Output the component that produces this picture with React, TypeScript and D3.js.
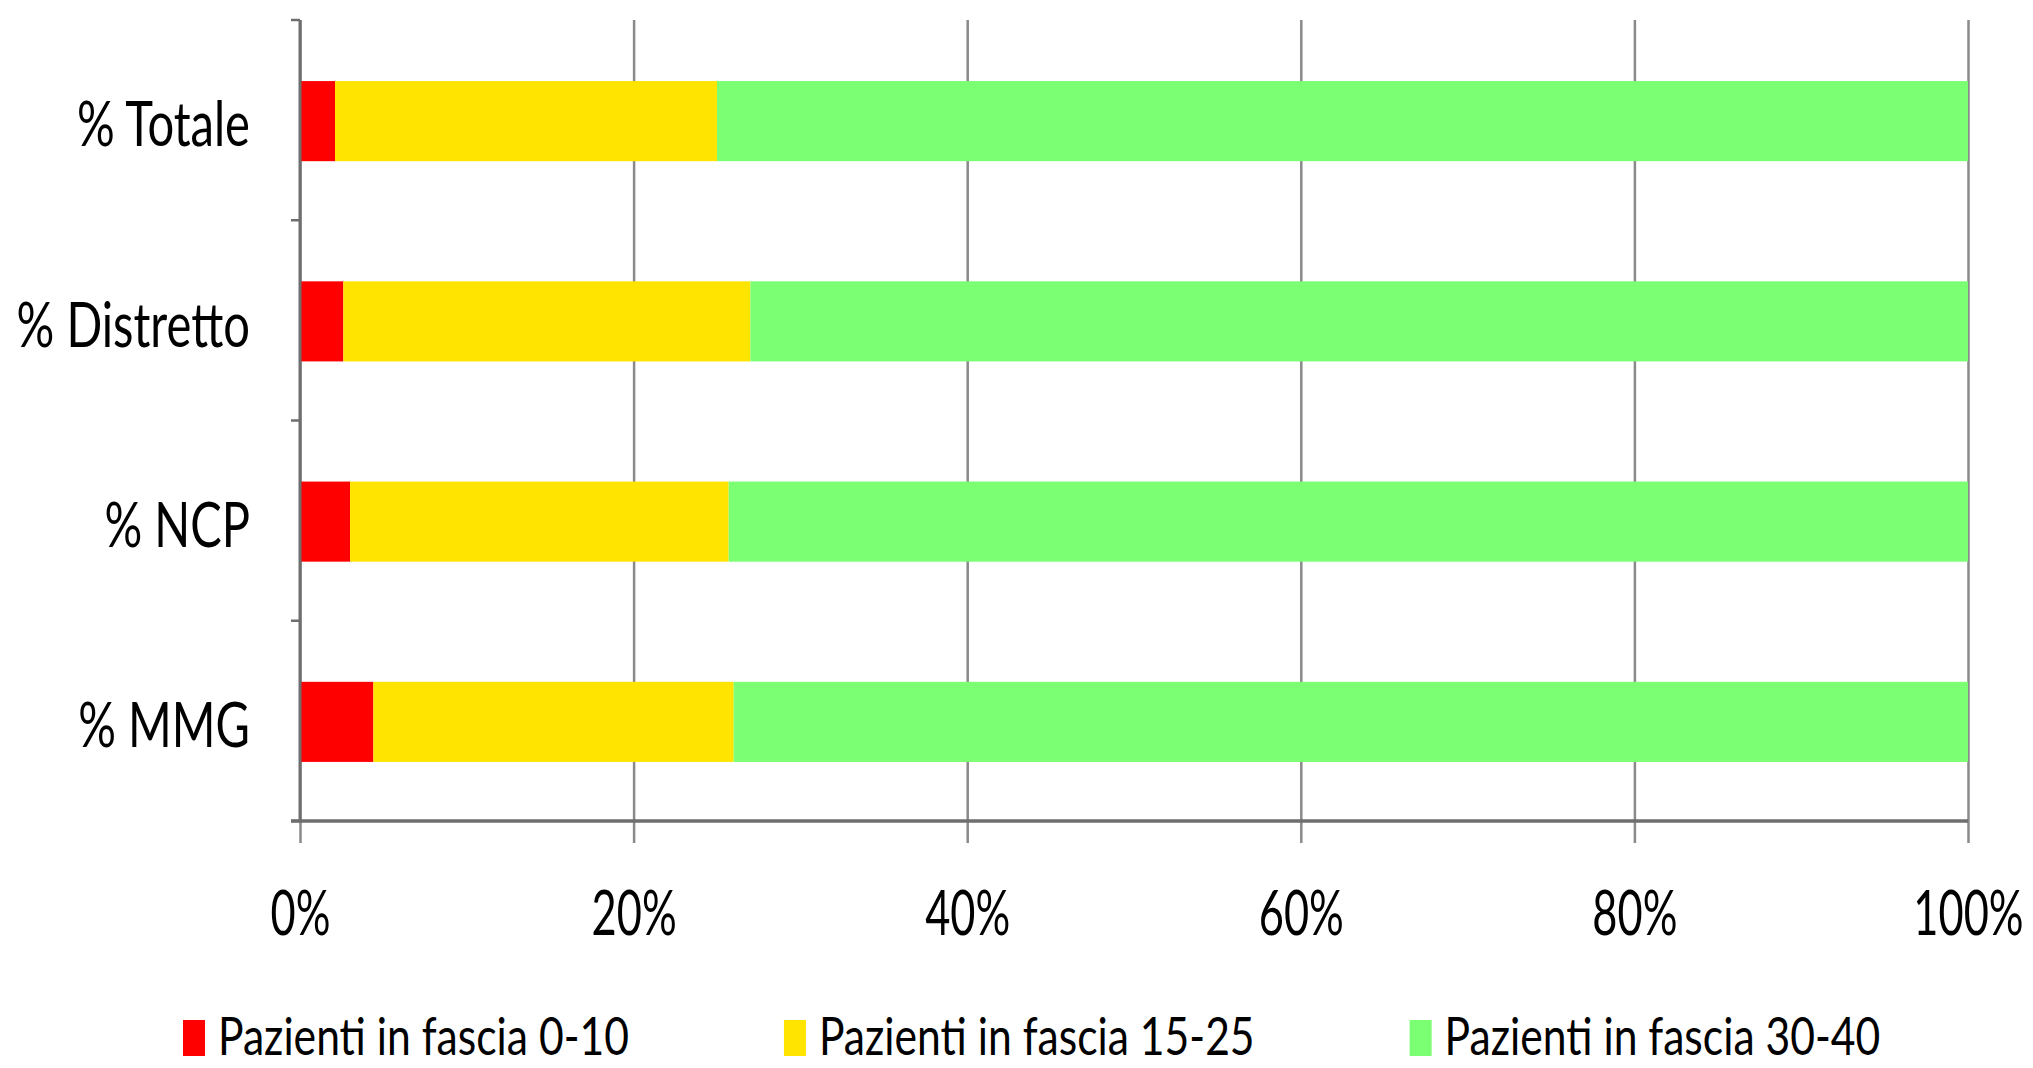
import React, { useEffect, useRef } from 'react'
import * as d3 from 'd3'

const categories = ['% Totale', '% Distretto', '% NCP', '% MMG']
const fascia010 = [2.1, 2.6, 3.0, 4.4]
const fascia1525 = [22.9, 24.4, 22.7, 21.6]
const fascia3040 = [75.0, 73.0, 74.3, 74.0]
const seriesNames = ['Pazienti in fascia 0-10', 'Pazienti in fascia 15-25', 'Pazienti in fascia 30-40']
const seriesKeys = ['f010', 'f1525', 'f3040']
const colors = ['#ff0000', '#ffe400', '#7bff73']
const xTicks = [0, 20, 40, 60, 80, 100]

const W = 2033
const H = 1068
const FONT = 'Lato, "Open Sans", sans-serif'

const App: React.FC = () => {
  const ref = useRef<SVGSVGElement>(null)

  useEffect(() => {
    document.body.style.margin = '0'
    const margin = { top: 20, right: 65, bottom: 247, left: 300 }
    const width = W - margin.left - margin.right
    const height = H - margin.top - margin.bottom

    const data = categories.map((c, i) => ({
      cat: c,
      f010: fascia010[i],
      f1525: fascia1525[i],
      f3040: fascia3040[i],
    }))

    const svg = d3.select(ref.current)
    svg.selectAll('*').remove()
    svg.attr('width', W).attr('height', H)

    const g = svg.append('g').attr('transform', `translate(${margin.left},${margin.top})`)

    const x = d3.scaleLinear().domain([0, 100]).range([0, width])
    const y = d3.scaleBand<string>().domain(categories).range([0, height]).paddingInner(0.6).paddingOuter(0.3)

    // gridlines + x ticks
    const xAxis = g
      .append('g')
      .attr('transform', `translate(0,${height + 22})`)
      .call(
        d3
          .axisBottom(x)
          .tickValues(xTicks)
          .tickSize(-(height + 22))
          .tickFormat((d) => `${d}%`)
      )
    xAxis.select('.domain').remove()
    xAxis.selectAll('.tick line').attr('stroke', '#8a8a8a').attr('stroke-width', 2.5)
    xAxis
      .selectAll('.tick text')
      .attr('y', 0)
      .attr('dy', 0)
      .attr('transform', `translate(0,92) scale(0.7,1)`)
      .attr('font-family', FONT)
      .attr('font-size', 62)
      .attr('fill', '#000')

    // stacked bars
    const stack = d3.stack<any>().keys(seriesKeys)
    const layers = stack(data)
    g.selectAll('g.layer')
      .data(layers)
      .enter()
      .append('g')
      .attr('class', 'layer')
      .attr('fill', (_d, i) => colors[i])
      .selectAll('rect')
      .data((d) => d)
      .enter()
      .append('rect')
      .attr('x', (d) => x(d[0]))
      .attr('width', (d) => x(d[1]) - x(d[0]))
      .attr('y', (d) => (y(d.data.cat) as number) + 1)
      .attr('height', y.bandwidth())

    // y axis
    const yAxis = g.append('g').call(d3.axisLeft(y).tickSize(0).tickPadding(0))
    yAxis.select('.domain').remove()
    yAxis
      .selectAll('.tick text')
      .attr('x', 0)
      .attr('dy', '0.36em')
      .attr('transform', `translate(-50,4) scale(0.76,1)`)
      .attr('font-family', FONT)
      .attr('font-size', 62)
      .attr('fill', '#000')

    const half = (y.step() * y.paddingInner()) / 2
    const bounds = categories.map((c) => (y(c) as number) - half).concat([height])
    g.selectAll('line.ytick')
      .data(bounds)
      .enter()
      .append('line')
      .attr('class', 'ytick')
      .attr('x1', -9)
      .attr('x2', 0)
      .attr('y1', (d) => d)
      .attr('y2', (d) => d)
      .attr('stroke', '#6e6e6e')
      .attr('stroke-width', 2.5)

    g.append('line')
      .attr('x1', 0)
      .attr('x2', 0)
      .attr('y1', 0)
      .attr('y2', height)
      .attr('stroke', '#6e6e6e')
      .attr('stroke-width', 3)
    g.append('line')
      .attr('x1', -9)
      .attr('x2', width)
      .attr('y1', height)
      .attr('y2', height)
      .attr('stroke', '#6e6e6e')
      .attr('stroke-width', 3.5)

    // legend
    const LSX = 0.82
    const legend = svg.append('g').attr('transform', `translate(183,1036)`)
    let cx = 0
    seriesNames.forEach((name, i) => {
      const item = legend.append('g').attr('transform', `translate(${cx},0)`)
      item.append('rect').attr('x', 0).attr('y', -16).attr('width', 22).attr('height', 36).attr('fill', colors[i])
      const t = item
        .append('text')
        .attr('transform', `translate(35,0) scale(${LSX},1)`)
        .attr('dy', '0.36em')
        .attr('font-family', FONT)
        .attr('font-size', 52)
        .attr('fill', '#000')
        .text(name)
      const tw = (t.node() as SVGTextElement).getComputedTextLength() * LSX
      cx += 35 + tw + 155
    })
  }, [])

  return <svg ref={ref} style={{ display: 'block' }} />
}

export default App
